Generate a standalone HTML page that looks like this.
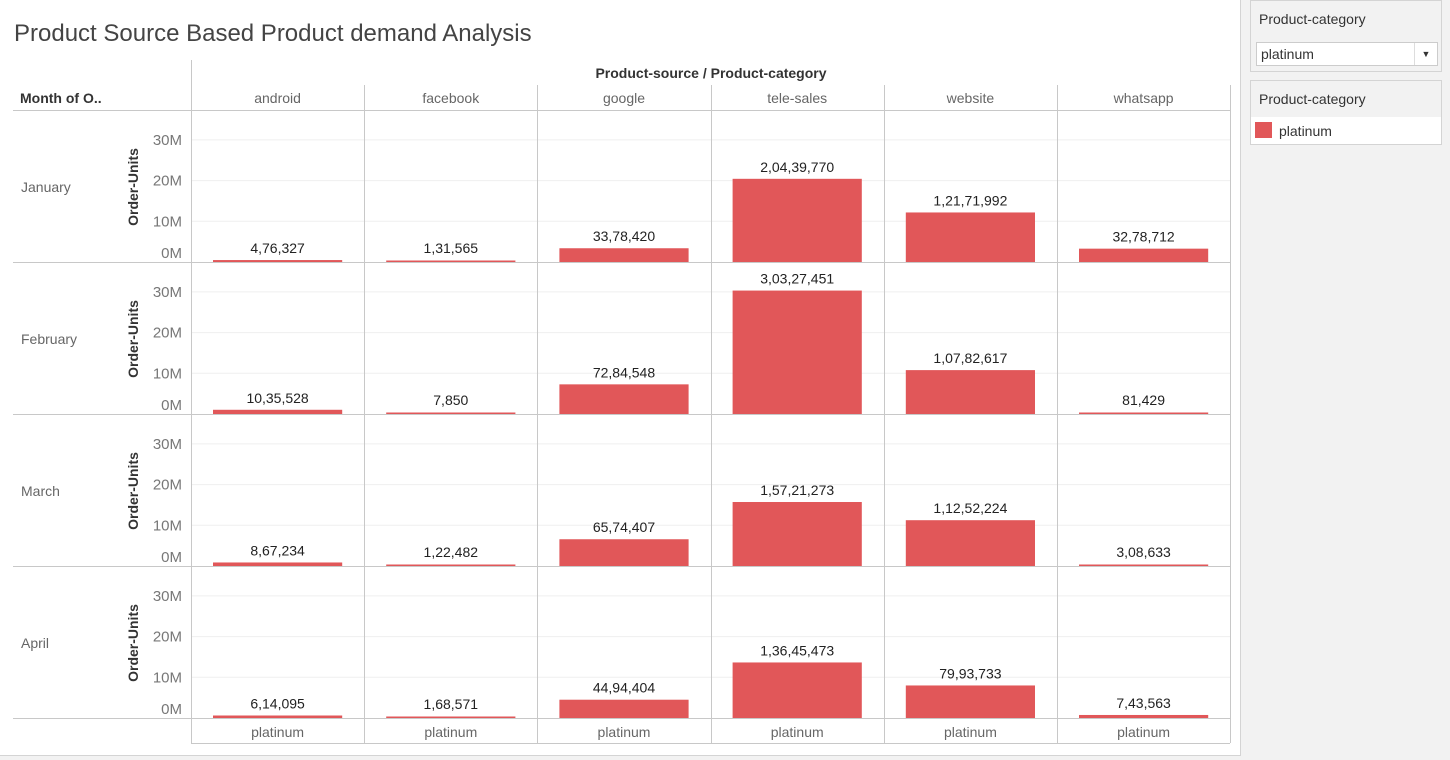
<!DOCTYPE html>
<html><head><meta charset="utf-8"><style>
body{margin:0;width:1450px;height:759px;background:#f2f2f2;font-family:"Liberation Sans",sans-serif;overflow:hidden;position:relative}
#main{position:absolute;left:0;top:0;width:1240px;height:755px;background:#fff;border-right:1px solid #d4d4d4;border-bottom:1px solid #d4d4d4}
.box{position:absolute;left:1250px;width:190px;border:1px solid #d4d4d4;background:#fff}
</style></head><body>
<div id="main">
<svg id="chart" width="1240" height="755"></svg>
</div>
<div class="box" style="top:0;height:70px;background:#f2f2f2">
  <div style="position:absolute;left:8px;top:10px;font-size:14px;color:#333">Product-category</div>
  <div style="position:absolute;left:5px;top:41px;width:180px;height:22px;border:1px solid #ccc;background:#fff">
    <span style="position:absolute;left:4px;top:3px;font-size:14px;color:#333">platinum</span>
    <span style="position:absolute;right:0;top:0;width:22px;height:22px;border-left:1px solid #ddd;font-size:9px;text-align:center;line-height:22px;color:#333">▼</span>
  </div>
</div>
<div class="box" style="top:80px;height:63px">
  <div style="position:absolute;left:0;top:0;width:190px;height:36px;background:#f2f2f2"></div>
  <div style="position:absolute;left:8px;top:10px;font-size:14px;color:#333">Product-category</div>
  <div style="position:absolute;left:4px;top:41px;width:17px;height:16px;background:#e15759"></div>
  <div style="position:absolute;left:28px;top:42px;font-size:14px;color:#333">platinum</div>
</div>
<script>
const months=["January","February","March","April"];
const sources=["android","facebook","google","tele-sales","website","whatsapp"];
const janVals=[476327,131565,3378420,20439770,12171992,3278712];
const febVals=[1035528,7850,7284548,30327451,10782617,81429];
const marVals=[867234,122482,6574407,15721273,11252224,308633];
const aprVals=[614095,168571,4494404,13645473,7993733,743563];
const values=[janVals,febVals,marVals,aprVals];
const ticks=[0,10000000,20000000,30000000];
const tickLabels=["0M","10M","20M","30M"];

const NS="http://www.w3.org/2000/svg";
const svg=document.getElementById('chart');
function mk(tag,attrs,text){const e=document.createElementNS(NS,tag);for(const k in attrs)e.setAttribute(k,attrs[k]);if(text!==undefined)e.textContent=text;svg.appendChild(e);return e;}
const colX0=191,colW=173.2,rowTop=111,rowH=152.0;
const x=i=>colX0+i*colW;
const base=r=>rowTop+(r+1)*rowH-1;
const pxPerM=4.07;
const y=(r,v)=>base(r)-v/1e6*pxPerM;
function fmt(n){let s=String(n);if(s.length<=3)return s;let last=s.slice(-3),rest=s.slice(0,-3);rest=rest.replace(/\B(?=(\d{2})+(?!\d))/g,",");return rest+","+last;}

let t=mk('text',{x:14,y:41,'font-size':24,fill:'#444'},'Product Source Based Product demand Analysis');


t=mk('text',{x:711,y:78,'font-size':14,'font-weight':'bold',fill:'#333','text-anchor':'middle'},'Product-source / Product-category');


t=mk('text',{x:20,y:103,'font-size':14,'font-weight':'bold',fill:'#333'},'Month of O..');



for(let r=0;r<4;r++){
  for(let k=1;k<ticks.length;k++){const yy=y(r,ticks[k]);mk('line',{x1:191,x2:1230,y1:yy,y2:yy,stroke:'#efefef'});}
}
mk('line',{x1:13,x2:1230,y1:110.5,y2:110.5,stroke:'#c8c8c8'});
for(let r=0;r<4;r++){const yy=base(r)+0.5;mk('line',{x1:13,x2:1230,y1:yy,y2:yy,stroke:'#c8c8c8'});}
mk('line',{x1:191,x2:1230,y1:743.5,y2:743.5,stroke:'#c8c8c8'});
mk('line',{x1:191.5,x2:191.5,y1:60,y2:743,stroke:'#c8c8c8'});
for(let i=1;i<=6;i++){const xx=Math.round(x(i))+0.5;mk('line',{x1:xx,x2:xx,y1:85,y2:743,stroke:'#c8c8c8'});}

sources.forEach((s,i)=>{
  const h=mk('text',{x:x(i)+colW/2,y:103,'font-size':14,fill:'#666','text-anchor':'middle'},s);
  
  
  const f=mk('text',{x:x(i)+colW/2,y:737,'font-size':14,fill:'#666','text-anchor':'middle'},'platinum');
  
  
});

months.forEach((m,r)=>{
  const ml=mk('text',{x:21,y:base(r)-70,'font-size':14,fill:'#666'},m);
  
  
  const cy=base(r)-75;
  const at=mk('text',{x:0,y:0,'font-size':14,'font-weight':'bold',fill:'#333','text-anchor':'middle',transform:`translate(138,${cy}) rotate(-90)`},'Order-Units');
  
  
  ticks.forEach((tv,k)=>{
    const off=k===0?-4:5;
    const tl=mk('text',{x:182,y:y(r,tv)+off,'font-size':15,fill:'#777','text-anchor':'end'},tickLabels[k]);
    
    
  });
  values[r].forEach((v,i)=>{
    const top=y(r,v),b=base(r);
    const hh=Math.max(1.5,b-top);
    const bar=mk('rect',{x:x(i)+22,y:b-hh,width:colW-44,height:hh,fill:'#e15759'});
    
    
    const lb=mk('text',{x:x(i)+colW/2,y:Math.min(b-hh,b-2)-7,'font-size':14,fill:'#222','text-anchor':'middle'},fmt(v));
    
    
  });
});
</script>
</body></html>
